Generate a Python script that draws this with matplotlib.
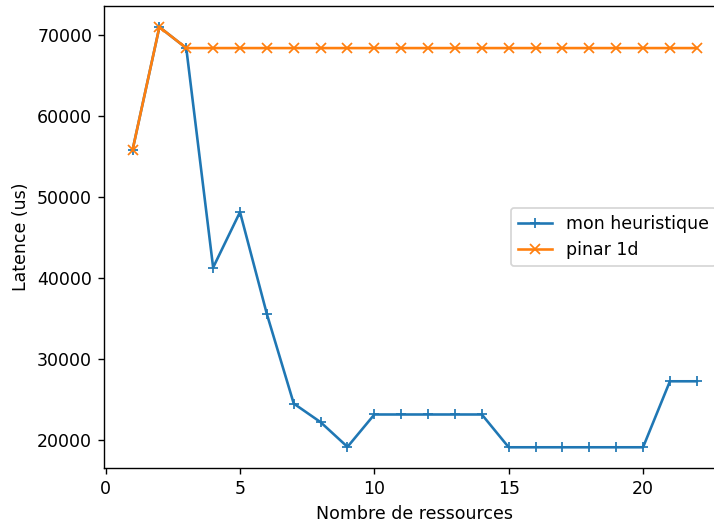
import numpy as np
import matplotlib
matplotlib.use("Agg")
import matplotlib.pyplot as plt

# nombre de ressources
ressources = np.arange(1, 23)

# latence mesuree (us)
heuristique = [55800, 71000, 68400, 41300, 48150, 35550, 24500, 22200, 19150,
               23150, 23150, 23150, 23150, 23150,
               19100, 19100, 19100, 19100, 19100, 19100,
               27250, 27250]
pinar1d = [55800, 71000] + [68400] * 20

DPI = 125
fig = plt.figure(figsize=(714 / DPI, 523 / DPI), dpi=DPI)
ax = fig.add_axes([0.1461, 0.1046, 0.8693, 0.8839])

ax.plot(ressources, heuristique, marker="+", label="mon heuristique")
ax.plot(ressources, pinar1d, marker="x", label="pinar 1d")

ax.set_xlabel("Nombre de ressources")
ax.set_ylabel("Latence (us)")
ax.legend(loc="center right")

fig.savefig("out.png", dpi=DPI)
